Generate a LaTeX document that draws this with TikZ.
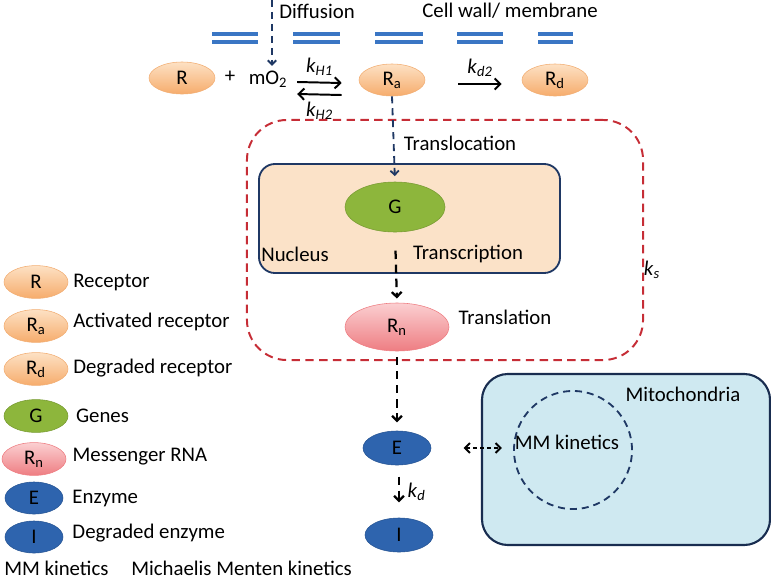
\documentclass[tikz,border=0pt]{standalone}
\usepackage{fontspec}
\setmainfont{Carlito}
\usetikzlibrary{shapes.geometric,positioning,arrows.meta}
\definecolor{orgtop}{HTML}{FDE1C4}
\definecolor{orgbot}{HTML}{F6AC6C}
\definecolor{orgline}{HTML}{F2AE74}
\definecolor{pnktop}{HTML}{FBCFD1}
\definecolor{pnkbot}{HTML}{EE7D82}
\definecolor{gene}{HTML}{8DB63C}
\definecolor{enz}{HTML}{2E64AE}
\definecolor{navy}{HTML}{1F3864}
\definecolor{memb}{HTML}{3A76C4}
\definecolor{ksred}{HTML}{C62D36}
\definecolor{nucfill}{HTML}{FBE2C8}
\definecolor{mitofill}{HTML}{CFE9F1}
\providecommand\tsub[1]{\textsubscript{#1}}
\providecommand\rate[1]{\textit{k}\textsubscript{\textit{#1}}}

\begin{document}
\begin{tikzpicture}[x=0.025cm,y=-0.025cm,font=\fontsize{14.8}{17}\selectfont]
  \tikzstyle{recp} = [ellipse, draw=orgline, inner sep=0pt, minimum width=1.65cm,
                      minimum height=0.8cm, shade, top color=orgtop, bottom color=orgbot]
  \tikzstyle{mrna} = [ellipse, draw=pnkbot, inner sep=0pt, minimum width=2.6cm,
                      minimum height=1.2cm, shade, top color=pnktop, bottom color=pnkbot]
  \tikzstyle{gene} = [ellipse, draw=gene!85!black, fill=gene, inner sep=0pt,
                      minimum width=2.5cm, minimum height=1.25cm]
  \tikzstyle{enzyme} = [ellipse, draw=enz!85!black, fill=enz, inner sep=0pt,
                      minimum width=1.7cm, minimum height=0.85cm]
  \tikzstyle{small} = [minimum width=1.6cm, minimum height=0.82cm]
  \tikzstyle{membrane} = [memb, line width=2.2pt]
  \tikzstyle{rxn} = [-{Straight Barb[length=4pt,width=8pt]}, black, line width=1.4pt]
  \tikzstyle{flow} = [-{Straight Barb[length=3.5pt,width=7pt]}, black, line width=1.6pt,
                      dash pattern=on 6pt off 4pt]
  \tikzstyle{transport} = [-{Straight Barb[length=3pt,width=6pt]}, navy, line width=1.3pt,
                      dash pattern=on 5pt off 3.5pt]
\useasboundingbox (0,0) rectangle (771,581);
% cell wall
\foreach \a/\b in {212/258, 293/340, 375/423, 457/503, 538/573}{
  \draw[membrane] (\a,34) -- (\b,34);
  \draw[membrane] (\a,42) -- (\b,42);
}
\node (diff) at (317,11) {Diffusion};
\node (wall) at (510,11) {Cell wall/ membrane};
% receptor reactions
\node[recp] (R) at (182,78) {R};
\node (plus) at (230,77) {+};
\node (mo2) at (268,79) {mO\tsub{2}};
\node[recp] (Ra) at (392,80) {R\tsub{a}};
\node[recp] (Rd) at (555,80) {R\tsub{d}};
\coordinate (difftop) at (272,0);
\draw[transport] (difftop) -- (difftop |- mo2.north);
\draw[rxn] ([shift={(5,3)}]mo2.east) -- node[above=1pt]{\rate{H1}} ([shift={(-17,3)}]Ra.west);
\draw[rxn] ([shift={(-17,15)}]Ra.west) -- node[below=1pt]{\rate{H2}} ([shift={(5,15)}]mo2.east);
\draw[rxn] ([shift={(33,4)}]Ra.east) -- node[above=1pt]{\rate{d2}} ([shift={(-20,4)}]Rd.west);
% synthesis
\node[draw=ksred, line width=1.4pt, dash pattern=on 6pt off 3.8pt, rounded corners=1cm,
      minimum width=9.9cm, minimum height=6cm] (ksbox) at (445,240) {};
\node (ks) at (652,270) {\rate{s}};
\node[draw=navy, line width=1.3pt, fill=nucfill, rounded corners=0.4cm,
      minimum width=7.525cm, minimum height=2.725cm] (nucleus) at (409.5,218.5) {};
\node[gene] (G) at (395,207) {G};
\node (nuclbl) at (295,254) {Nucleus};
\node (transc) at (468,254) {Transcription};
\node (transl) at (460,143) {Translocation};
\draw[transport, shorten >=4pt] (Ra.south) -- (G.north);
\node[mrna] (Rn) at (397,327) {R\tsub{n}};
\node (translat) at (505,317) {Translation};
\draw[flow, shorten <=13pt, shorten >=3pt] (G.south) -- (Rn.north);
% enzyme
\node[enzyme] (E) at (397,448) {E};
\node[enzyme] (I) at (399,535) {I};
\draw[flow, shorten <=4pt, shorten >=6pt] (Rn.south) -- (E.north);
\draw[flow, shorten <=8pt, shorten >=11pt] (E.south -| I.north) -- node[right=2pt]{\rate{d}} (I.north);
% mitochondria
\node[draw=navy!80!black, line width=1.5pt, fill=mitofill, rounded corners=0.65cm,
      minimum width=7.2cm, minimum height=4.275cm] (mito) at (626,459.5) {};
\node (mitolbl) at (683,394) {Mitochondria};
\node[circle, draw=navy, line width=1.3pt, dash pattern=on 5pt off 3.5pt,
      minimum size=2.95cm] (mmc) at (573,450) {};
\node (mmk) at (567,442) {MM kinetics};
\draw[{Straight Barb[length=3.5pt,width=7pt]}-{Straight Barb[length=3.5pt,width=7pt]},
      black, line width=1.4pt, dash pattern=on 3pt off 2pt, shorten <=23pt, shorten >=8pt]
  (E.east) -- (E.east -| mmc.west);
% legend
\node[recp, small] (lgR) at (36,282) {R};
\node[recp, small] (lgRa) at (36,326) {R\tsub{a}};
\node[recp, small] (lgRd) at (36,369) {R\tsub{d}};
\node[gene, small] (lgG) at (36,416) {G};
\node[mrna, small] (lgRn) at (34,459) {R\tsub{n}};
\node[enzyme, minimum width=1.45cm, minimum height=0.8cm] (lgE) at (34,498) {E};
\node[enzyme, minimum width=1.45cm, minimum height=0.8cm] (lgI) at (34,537) {I};
\node[right=0pt of lgR] {Receptor};
\node[right=0pt of lgRa, yshift=3pt] {Activated receptor};
\node[right=0pt of lgRd, yshift=1pt] {Degraded receptor};
\node[right=2pt of lgG] {Genes};
\node[right=1pt of lgRn, yshift=2pt] {Messenger RNA};
\node[right=3pt of lgE] {Enzyme};
\node[right=3pt of lgI, yshift=3pt] {Degraded enzyme};
\node[anchor=base west, inner sep=0pt] (mmabbr) at (4,575) {MM kinetics};
\node[anchor=base west, inner sep=0pt] (mmfull) at (131,575) {Michaelis Menten kinetics};
\end{tikzpicture}
\end{document}
